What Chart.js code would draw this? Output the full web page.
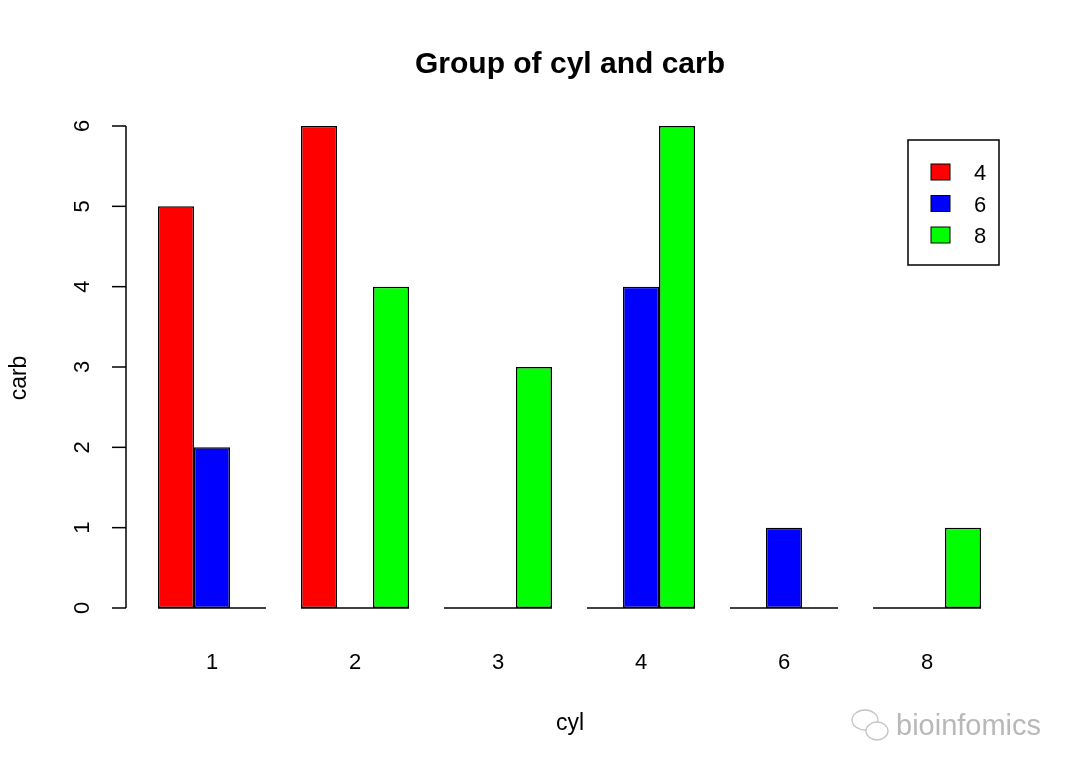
<!DOCTYPE html>
<html>
<head>
<meta charset="utf-8">
<script src="https://cdn.jsdelivr.net/npm/chart.js@4"></script>
<style>
    html, body { margin: 0; padding: 0; background: #fff; }
    #wrap { width: 1080px; height: 772px; }
</style>
</head>
<body>
<div id="wrap"><canvas id="chart" width="1080" height="772"></canvas></div>
<script>
// carb values on the x axis, one series per cyl group
const carbLabels = ['1', '2', '3', '4', '6', '8'];
const cylGroups = ['4', '6', '8'];
const cyl4 = [5, 6, 0, 0, 0, 0];
const cyl6 = [2, 0, 0, 4, 1, 0];
const cyl8 = [0, 4, 3, 6, 0, 1];
const yTicks = [0, 1, 2, 3, 4, 5, 6];

const colors = ['#ff0000', '#0000ff', '#00ff00'];
const FONT = '"Liberation Sans", Arial, Helvetica, sans-serif';

// R base-graphics style decorations: axis, zero lines, legend, titles
const rStyle = {
    id: 'rStyle',
    afterDatasetsDraw(chart) {
        const ctx = chart.ctx;
        const x = chart.scales.x;
        const y = chart.scales.y;
        const y0 = y.getPixelForValue(0);
        const groupW = x.width / carbLabels.length * chart.options.datasets.bar.categoryPercentage;

        ctx.save();
        ctx.strokeStyle = '#000';
        ctx.lineWidth = 1.5;

        // zero height bars show as a flat line under each group
        carbLabels.forEach((c, i) => {
            const cx = x.getPixelForValue(i);
            ctx.beginPath();
            ctx.moveTo(cx - groupW / 2, y0);
            ctx.lineTo(cx + groupW / 2, y0);
            ctx.stroke();
        });

        // y axis
        const axisX = 126;
        ctx.beginPath();
        ctx.moveTo(axisX, y.getPixelForValue(yTicks[0]));
        ctx.lineTo(axisX, y.getPixelForValue(yTicks[yTicks.length - 1]));
        ctx.stroke();
        ctx.fillStyle = '#000';
        ctx.font = '22px ' + FONT;
        ctx.textAlign = 'center';
        ctx.textBaseline = 'middle';
        yTicks.forEach(t => {
            const py = y.getPixelForValue(t);
            ctx.beginPath();
            ctx.moveTo(axisX - 14, py);
            ctx.lineTo(axisX, py);
            ctx.stroke();
            ctx.save();
            ctx.translate(83, py);
            ctx.rotate(-Math.PI / 2);
            ctx.fillText(String(t), 0, 0);
            ctx.restore();
        });

        // x labels (no axis line)
        carbLabels.forEach((c, i) => {
            ctx.fillText(c, x.getPixelForValue(i), 663);
        });

        // axis titles
        ctx.font = '23px ' + FONT;
        ctx.fillText('cyl', 570, 724);
        ctx.save();
        ctx.translate(20, 378);
        ctx.rotate(-Math.PI / 2);
        ctx.fillText('carb', 0, 0);
        ctx.restore();

        // main title
        ctx.font = 'bold 30px ' + FONT;
        ctx.fillText('Group of cyl and carb', 570, 65);

        // legend box
        ctx.lineWidth = 1.5;
        ctx.strokeRect(908, 140, 91, 125);
        ctx.font = '22px ' + FONT;
        cylGroups.forEach((g, i) => {
            const ly = 172 + i * 31.5;
            ctx.fillStyle = colors[i];
            ctx.fillRect(931, ly - 8, 19, 16);
            ctx.lineWidth = 1;
            ctx.strokeRect(931, ly - 8, 19, 16);
            ctx.fillStyle = '#000';
            ctx.fillText(g, 980, ly + 2);
        });

        // watermark
        ctx.strokeStyle = '#c4c4c4';
        ctx.lineWidth = 1.3;
        ctx.beginPath();
        ctx.ellipse(865, 720, 13, 10, 0, 0, Math.PI * 2);
        ctx.stroke();
        ctx.beginPath();
        ctx.ellipse(877, 731, 11, 9, 0, 0, Math.PI * 2);
        ctx.fillStyle = '#fff';
        ctx.fill();
        ctx.stroke();
        ctx.fillStyle = '#b8b8b8';
        ctx.font = '29px ' + FONT;
        ctx.textAlign = 'left';
        ctx.fillText('bioinfomics', 896, 727);
        ctx.restore();
    }
};

new Chart(document.getElementById('chart'), {
    type: 'bar',
    data: {
        labels: carbLabels,
        datasets: [cyl4, cyl6, cyl8].map((vals, i) => ({
            label: cylGroups[i],
            data: vals,
            backgroundColor: colors[i],
            borderColor: '#000',
            borderWidth: 1.5,
            borderSkipped: false,
            clip: false
        }))
    },
    options: {
        responsive: false,
        animation: false,
        devicePixelRatio: 1,
        layout: {
            padding: { left: 140.5, right: 81.5, top: 126, bottom: 164 }
        },
        datasets: {
            bar: { categoryPercentage: 0.755, barPercentage: 1.0 }
        },
        scales: {
            x: { display: false, offset: true },
            y: { display: false, min: 0, max: 6 }
        },
        plugins: {
            legend: { display: false },
            title: { display: false },
            tooltip: { enabled: false }
        }
    },
    plugins: [rStyle]
});
</script>
</body>
</html>
